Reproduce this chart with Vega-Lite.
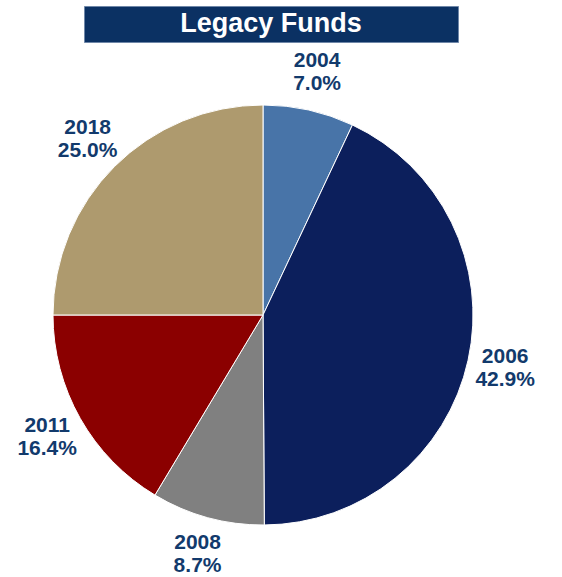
{
  "$schema": "https://vega.github.io/schema/vega-lite/v6.json",
  "autosize": {"type": "pad"},
  "padding": {"left": 17, "top": 5, "right": 0, "bottom": 0},
  "background": "white",
  "config": {"view": {"stroke": null}, "font": "Liberation Sans"},
  "spacing": 7,
  "vconcat": [
    {
      "width": 374,
      "height": 36,
      "view": {"fill": "#0B3163", "stroke": "#6F87A8", "strokeWidth": 1},
      "data": {"values": [{"title": "Legacy Funds"}]},
      "mark": {"type": "text", "font": "Liberation Sans", "fontWeight": "bold", "fontSize": 27, "color": "white", "align": "center", "baseline": "middle"},
      "encoding": {"text": {"field": "title"}}
    },
    {
      "width": 358,
      "height": 420,
      "data": {"values": [
        {"year": "2004", "share": 0.070},
        {"year": "2006", "share": 0.429},
        {"year": "2008", "share": 0.087},
        {"year": "2011", "share": 0.164},
        {"year": "2018", "share": 0.250}
      ]},
      "encoding": {
        "theta": {"field": "share", "type": "quantitative", "stack": true},
        "order": {"field": "year", "sort": "ascending"}
      },
      "layer": [
        {
          "mark": {"type": "arc", "outerRadius": 210, "stroke": "white", "strokeWidth": 1},
          "encoding": {
            "color": {"field": "year", "type": "nominal", "legend": null,
              "scale": {"domain": ["2004", "2006", "2008", "2011", "2018"],
                        "range": ["#4874A8", "#0C1F5C", "#808080", "#8B0000", "#AE9A6E"]}}
          }
        },
        {
          "mark": {"type": "text", "radius": 248, "dy": -11.5, "font": "Liberation Sans", "fontWeight": "bold", "fontSize": 21, "color": "#123A6C", "align": "center", "baseline": "middle"},
          "encoding": {"text": {"field": "year"}}
        },
        {
          "mark": {"type": "text", "radius": 248, "dy": 11.5, "font": "Liberation Sans", "fontWeight": "bold", "fontSize": 21, "color": "#123A6C", "align": "center", "baseline": "middle"},
          "encoding": {"text": {"field": "share", "type": "quantitative", "format": ".1%"}}
        }
      ]
    }
  ]
}
